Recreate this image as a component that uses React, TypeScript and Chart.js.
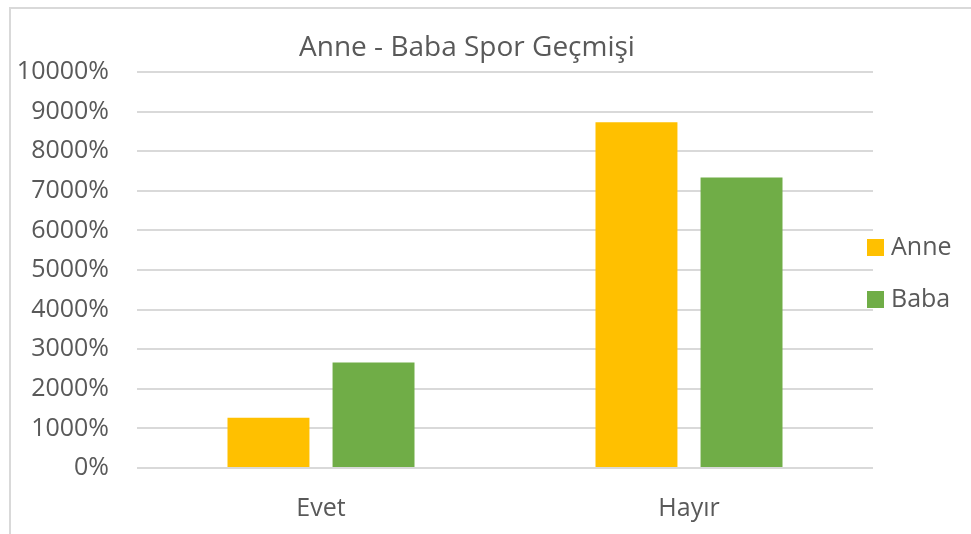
import React, { useEffect, useRef } from "react";
import { Chart, registerables } from "chart.js";

Chart.register(...registerables);

const categories = ["Evet", "Hayır"];
const anneValues = [1270, 8730];
const babaValues = [2667, 7333];
const seriesNames = ["Anne", "Baba"];
const seriesColors = ["#FFC000", "#70AD47"];
const chartTitle = "Anne - Baba Spor Geçmişi";

const FONT = "'Open Sans', 'DejaVu Sans', sans-serif";
const TEXT = "#595959";

const titleLegendPlugin = {
  id: "titleLegend",
  afterDraw(chart: any) {
    const ctx = chart.ctx;
    ctx.save();
    ctx.fillStyle = TEXT;
    ctx.font = `28px ${FONT}`;
    ctx.textAlign = "center";
    ctx.textBaseline = "middle";
    ctx.fillText(chartTitle, 467, 48);

    ctx.font = `25px ${FONT}`;
    chart.data.datasets.forEach((ds: any, i: number) => {
      const y = 247 + i * 52;
      ctx.fillStyle = ds.backgroundColor;
      ctx.fillRect(867, y - 8, 17, 17);
      ctx.fillStyle = TEXT;
      ctx.textAlign = "left";
      ctx.textBaseline = "middle";
      ctx.fillText(ds.label, 891, y + 1);
    });
    ctx.restore();
  },
};

export default function App() {
  const ref = useRef<HTMLCanvasElement | null>(null);

  useEffect(() => {
    if (!ref.current) return;
    const chart = new Chart(ref.current, {
      type: "bar",
      data: {
        labels: categories,
        datasets: [
          { label: seriesNames[0], data: anneValues, backgroundColor: seriesColors[0] },
          { label: seriesNames[1], data: babaValues, backgroundColor: seriesColors[1] },
        ],
      },
      options: {
        animation: false,
        responsive: false,
        maintainAspectRatio: false,
        layout: { padding: { top: 72, right: 98, bottom: 0, left: 0 } },
        datasets: {
          bar: { categoryPercentage: 0.571, barPercentage: 0.78 },
        },
        plugins: {
          legend: { display: false },
          title: { display: false },
          tooltip: { enabled: false },
        },
        scales: {
          x: {
            grid: { display: false, drawTicks: false },
            border: { display: false },
            ticks: { color: TEXT, font: { family: FONT, size: 25 }, padding: 26 },
            afterFit(scale: any) {
              scale.height = 66;
            },
          },
          y: {
            min: 0,
            max: 10000,
            ticks: {
              stepSize: 1000,
              color: TEXT,
              font: { family: FONT, size: 25 },
              padding: 28,
              callback: (v: any) => `${v}%`,
            },
            grid: { color: "#d9d9d9", lineWidth: 2, drawTicks: false },
            border: { display: false },
            afterFit(scale: any) {
              scale.width = 137;
            },
          },
        },
      },
      plugins: [titleLegendPlugin],
    });
    return () => chart.destroy();
  }, []);

  return (
    <div style={{ position: "fixed", left: 0, top: 0, width: 971, height: 534, background: "#fff" }}>
      <div
        style={{
          position: "absolute",
          left: 9,
          top: 7,
          width: 970,
          height: 540,
          borderTop: "2px solid #d9d9d9",
          borderLeft: "2px solid #d9d9d9",
        }}
      />
      <canvas ref={ref} width={971} height={534} style={{ position: "absolute", left: 0, top: 0 }} />
    </div>
  );
}
